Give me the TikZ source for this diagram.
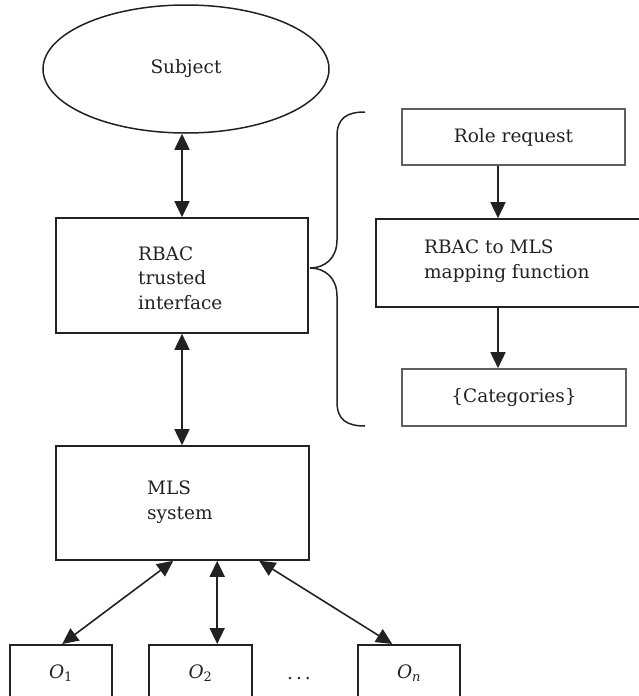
\documentclass[tikz,border=0pt]{standalone}
\usepackage{fontspec}
\setmainfont{DejaVu Serif}
\usetikzlibrary{arrows.meta,shapes.geometric,calc}
\definecolor{ink}{HTML}{222222}
\definecolor{greyline}{HTML}{5F5F5F}
\newcommand{\objlabel}[1]{\textit{O}\textsubscript{#1}}
\begin{document}
\begin{tikzpicture}[x=1pt,y=-1pt,
  every node/.style={font=\fontsize{18.5}{24.5}\selectfont, text=ink},
  box/.style={draw=ink, line width=1.6pt, rectangle, inner sep=0pt},
  greybox/.style={draw=greyline, line width=1.6pt, rectangle, inner sep=0pt},
  dbl/.style={draw=ink, line width=1.6pt, {Triangle[length=16pt,width=15pt]}-{Triangle[length=16pt,width=15pt]}},
  sgl/.style={draw=ink, line width=1.6pt, -{Triangle[length=16pt,width=15pt]}},
  txt/.style={align=left, inner sep=0pt}]
\useasboundingbox (0,0) rectangle (639,696);
\clip (0,0) rectangle (639,696);

% left column
\node[draw=ink, line width=1.5pt, ellipse, minimum width=286pt, minimum height=128pt, inner sep=0pt] (subj) at (186,69) {Subject};
\node[box, minimum width=252pt, minimum height=115pt] (rbac) at (182,275.5) {};
\node[txt, anchor=west] (rbact) at (138,278) {RBAC\\trusted\\interface};
\node[box, minimum width=253pt, minimum height=114pt] (mls) at (182.5,503) {};
\node[txt, anchor=west] (mlst) at (147,502) {MLS\\system};

% objects
\node[box, anchor=north, minimum width=102pt, minimum height=76pt] (o1) at (61,644) {};
\node[box, anchor=north, minimum width=103pt, minimum height=76pt] (o2) at (200.5,644) {};
\node[box, anchor=north, minimum width=102pt, minimum height=76pt] (on) at (409,644) {};
\node (o1t) at ([yshift=-29pt]o1.north) {\objlabel{1}};
\node (o2t) at ([yshift=-29pt]o2.north) {\objlabel{2}};
\node (ont) at ([yshift=-29pt]on.north) {\objlabel{\textit{n}}};
\node[anchor=base] (dots) at (299,679) {.\hspace{3pt}.\hspace{3pt}.};

% right column
\node[greybox, minimum width=223pt, minimum height=56pt] (role) at (513.5,137) {Role request};
\node[box, minimum width=284pt, minimum height=88pt] (map) at (518,263) {};
\node[txt, anchor=west] (mapt) at (424,261) {RBAC to MLS\\mapping function};
\node[greybox, minimum width=224pt, minimum height=57pt] (cat) at (514,397.5) {\{Categories\}};

% connectors
\draw[dbl] (rbac.north) -- (rbac.north |- subj.south);
\draw[dbl] (rbac.south) -- (rbac.south |- mls.north);

\coordinate (m1) at ($(mls.south west)+(118,0)$);
\coordinate (m2) at ($(mls.south west)+(162,0)$);
\coordinate (m3) at ($(mls.south west)+(204,0)$);
\coordinate (e1) at ($(o1.north west)+(53,0)$);
\coordinate (e2) at ($(o2.north west)+(69,0)$);
\coordinate (e3) at ($(on.north west)+(35,0)$);
\draw[dbl] (m1) -- (e1);
\draw[dbl] (m2) -- (e2);
\draw[dbl] (m3) -- (e3);

\coordinate (ra) at ([xshift=-15.5pt]role.south);
\coordinate (rb) at (ra |- map.north);
\draw[sgl] (ra) -- (rb);
\coordinate (ca) at (map.south -| ra);
\coordinate (cb) at (ra |- cat.north);
\draw[sgl] (ca) -- (cb);

% brace gathering the mapping steps
\draw[ink, line width=1.5pt]
  (365,112) .. controls (347,112) and (337,118) .. (337,136)
  -- (337,240) .. controls (337,258) and (325,268) .. (310,268)
  .. controls (325,268) and (337,278) .. (337,296)
  -- (337,402) .. controls (337,420) and (347,426) .. (365,426);
\end{tikzpicture}
\end{document}
